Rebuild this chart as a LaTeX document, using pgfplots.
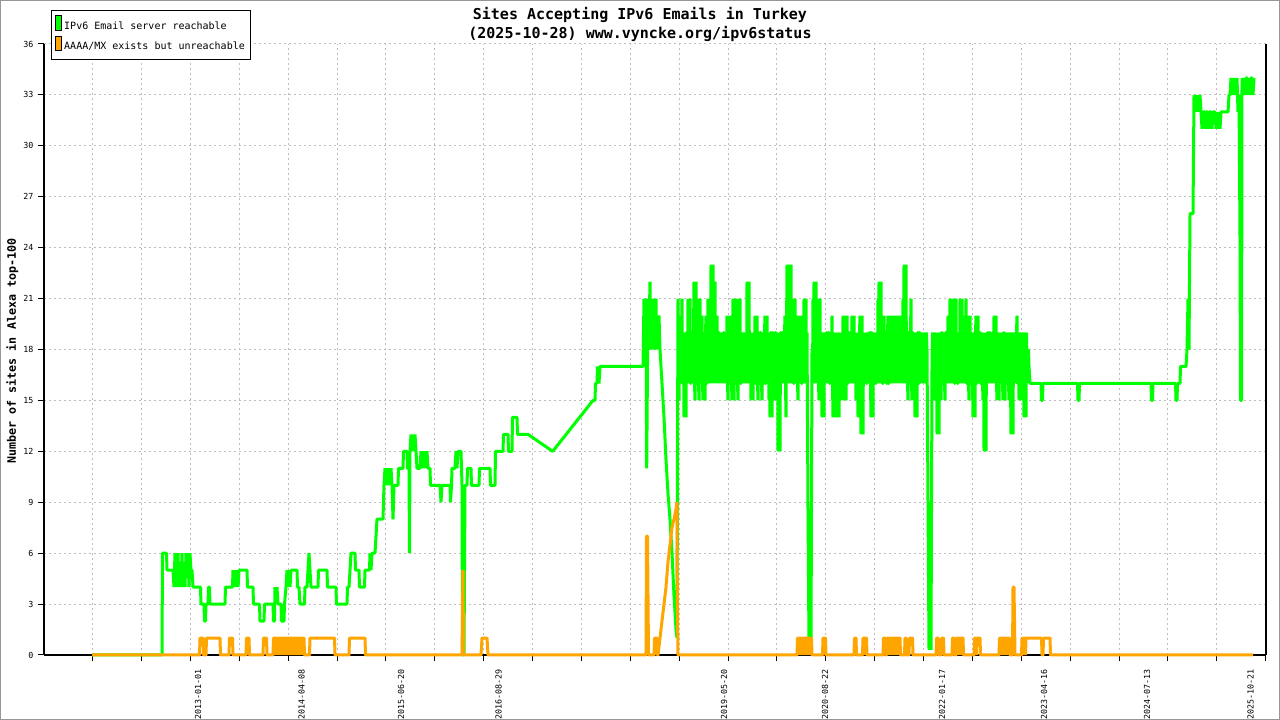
\documentclass[border=0pt]{standalone}
\usepackage{fontspec}
\setmainfont{DejaVu Sans Mono}
\usepackage{pgfplots}
\pgfplotsset{compat=1.18}
\definecolor{gsix}{RGB}{0,255,0}
\definecolor{orsix}{RGB}{255,165,0}
\definecolor{gridc}{RGB}{190,190,190}
\definecolor{framec}{RGB}{150,150,150}
\begin{document}
\begin{tikzpicture}
\fill[white] (-33pt,-48.75pt) rectangle (927pt,491.25pt);
\begin{axis}[
  at={(0,0)}, anchor=south west,
  scale only axis, width=916.5pt, height=458.25pt,
  xmin=44, xmax=1266, ymin=0, ymax=36,
  clip=false,
  axis x line=bottom, axis y line=box, axis line style={-, line width=0.9pt, black},
  ytick={0,3,...,36}, ytick pos=left,
  xtick={43.7,92.6,141.5,190.3,239.2,288.1,337.0,385.9,434.7,483.6,532.5,581.4,630.3,679.1,728.0,776.9,825.8,874.7,923.5,972.4,1021.3,1070.2,1119.1,1167.9,1216.8,1265.7},
  xticklabels={},
  tick align=outside, major tick length=4.5pt,
  tick style={black, line width=0.75pt},
  xmajorgrids, ymajorgrids,
  grid style={gridc, dash pattern=on 1.5pt off 2.25pt, line width=0.75pt},
  /pgf/number format/assume math mode=true,
  tick label style={font=\fontsize{6.25}{7}\selectfont},
  extra x ticks={198,301.5,401,498.5,724,825,942,1044,1147,1250.5},
  extra x tick labels={2013-01-01,2014-04-08,2015-06-20,2016-08-29,2019-05-20,2020-08-22,2022-01-17,2023-04-16,2024-07-13,2025-10-21},
  extra x tick style={major tick length=0pt, grid=none, xticklabel style={yshift=-7pt, rotate=90, anchor=east, font=\fontsize{6.25}{7}\selectfont}},
  ylabel={Number of sites in Alexa top-100},
  ylabel style={at={(axis description cs:-0.0258,0.4975)}, anchor=center, font=\bfseries\fontsize{8.75}{10}\selectfont},
  legend style={at={(axis description cs:0.0055,1.0552)}, anchor=north west, draw=black, line width=0.75pt, fill=white, font=\fontsize{7.5}{9}\selectfont, inner xsep=2.5pt, inner ysep=3.5pt, row sep=1.5pt},
  legend cell align=left,
]
\addplot[gsix, line width=2.25pt, line join=bevel,
  legend image code/.code={\draw[draw=black, fill=gsix, line width=0.75pt] (0pt,-3pt) rectangle (4.5pt,7.9pt);}]
coordinates {
(92,0) (162,0) (162.5,6) (166.5,6) (167,5) (173,5) (174,4) (175,6) (176,4) (177,5) (178,6) (179,4) (180,5) (181,4) (182,6) (183,4) (184,5) (185,4) (186,6) (187,5) (188,6) (189,4) (190,6) (191,5) (192,5) (193,4) (200.5,4) (201,3) (204,3) (204.5,2) (205.5,2) (206,3) (208,3) (208.5,4) (209.5,4) (210,3) (225,3) (225.5,4) (232.5,4) (233,5) (234,4) (235,5) (236,4) (237,5) (238,4) (239,5) (247,5) (247.5,4) (253,4) (253.5,3) (259.5,3) (260,2) (264,2) (264.5,3) (273,3) (273.5,2) (274.5,2) (275,4) (276,3) (277,4) (278,3) (281,3) (281.5,2) (284,2) (284.5,3) (286,4) (287,5) (288,4) (289,5) (290,4) (291,5) (297,5) (297.5,4) (299,4) (300,3) (304.5,3) (305,4) (307,4) (308,5) (309,6) (310,5) (311,4) (318,4) (318.5,5) (327,5) (327.5,4) (336,4) (336.5,3) (347,3) (347.5,4) (349,4) (350,5) (351,6) (355,6) (355.5,5) (359,5) (359.5,4) (364.5,4) (365,5) (369.5,5) (370,6) (371,5) (372,6) (375,6) (376,7) (377,8) (383,8) (384,10) (385,11) (386,10) (387,11) (388,10) (389,11) (390,10) (391,11) (392,10) (393,8) (394,10) (398,10) (398.5,11) (403,11) (403.5,12) (407,12) (407.5,11) (409,11) (409.5,6) (410,12) (411,13) (412,12) (413,13) (414,12) (415,13) (416,12) (417,11) (420,11) (421,12) (422,11) (423,12) (424,11) (425,12) (426,11) (427,12) (428,11) (430,11) (430.5,10) (440,10) (441,9) (442,10) (450,10) (450.5,9) (451.5,10) (452,11) (455,11) (456,12) (457,11) (458,12) (461,12) (462,10) (462.5,0) (464,0) (465,10) (467,10) (467.5,11) (471,11) (471.5,10) (479,10) (479.5,11) (490,11) (490.5,10) (495,10) (495.5,12) (503,12) (503.5,13) (508,13) (508.5,12) (512,12) (512.5,14) (517,14) (517.5,13) (528,13) (552.7,12) (593,15) (595,15) (595.5,16) (597,16) (597.5,17) (599,16) (600,17) (643,17) (644,21) (644.5,18) (645,21) (646,20) (646.7,11) (648,21) (648.5,18) (649,19) (650,22) (650.5,18) (651,19) (652,21) (652.5,18) (653,20) (654,21) (654.5,18) (655,19) (656,21) (656.5,18) (657,20) (658,19) (659,20) (660,18) (662,16) (664,14) (666,11.5) (668,9.5) (670,8) (672,6) (674,3.5) (676,1.5) (677,1) (677.5,12)
(678,21)(678.5,16)(679,15)(679.5,19)(680,20)(680.5,16)(681,17)(681.5,19)(682,21)(682.5,16)(683,16)(683.5,19)(684,14)(684.5,19)(685,18)(685.5,16)(686,14)(686.5,19)(687,19)(687.5,16)(688,21)(688.5,16)(689,17)(689.5,19)(690,21)(690.5,16)(691,16)(691.5,19)(692,19)(692.5,16)(693,17)(693.5,19)(694,22)(694.5,16)(695,15)(695.5,19)(696,22)(696.5,16)(697,16)(697.5,19)(698,21)(698.5,16)(699,15)(699.5,19)(700,21)(700.5,16)(701,17)(701.5,19)(702,20)(702.5,16)(703,15)(703.5,19)(704,18)(704.5,16)(705,15)(705.5,19)(706,20)(706.5,16)(707,16)(707.5,19)(708,21)(708.5,16)(709,18)(709.5,16)(710,21)(710.5,16)(711,23)(711.5,16)(712,17)(712.5,19)(713,23)(713.5,16)(714,19)(714.5,16)(715,22)(715.5,16)(716,18)(716.5,16)(717,20)(717.5,16)(718,17)(718.5,19)(719,19)(719.5,16)(720,17)(720.5,19)(721,18)(721.5,16)(722,19)(722.5,16)(723,17)(723.5,19)(724,19)(724.5,16)(725,17)(725.5,19)(726,18)(726.5,16)(727,20)(727.5,16)(728,15)(728.5,19)(729,20)(729.5,16)(730,16)(730.5,19)(731,20)(731.5,16)(732,15)(732.5,19)(733,21)(733.5,16)(734,15)(734.5,19)(735,21)(735.5,16)(736,16)(736.5,19)(737,21)(737.5,16)(738,15)(738.5,19)(739,19)(739.5,16)(740,21)(740.5,16)(741,16)(741.5,19)(742,18)(742.5,16)(743,17)(743.5,19)(744,18)(744.5,16)(745,17)(745.5,19)(746,18)(746.5,16)(747,22)(747.5,16)(748,20)(748.5,16)(749,22)(749.5,16)(750,17)(750.5,19)(751,15)(751.5,19)(752,17)(752.5,19)(753,15)(753.5,19)(754,18)(754.5,16)(755,20)(755.5,16)(756,16)(756.5,19)(757,20)(757.5,16)(758,15)(758.5,19)(759,19)(759.5,16)(760,16)(760.5,19)(761,19)(761.5,16)(762,15)(762.5,19)(763,18)(763.5,16)(764,16)(764.5,19)(765,20)(765.5,16)(766,16)(766.5,19)(767,20)(767.5,16)(768,17)(768.5,19)(769,15)(769.5,19)(770,14)(770.5,19)(771,19)(771.5,16)(772,14)(772.5,19)(773,19)(773.5,16)(774,16)(774.5,19)(775,15)(775.5,19)(776,19)(776.5,16)(777,16)(777.5,19)(778,12)(778.5,19)(779,17)(779.5,19)(780,12)(780.5,19)(781,19)(781.5,16)(782,17)(782.5,19)(783,19)(783.5,16)(784,17)(784.5,19)(785,20)(785.5,16)(786,14)(786.5,19)(787,23)(787.5,16)(788,18)(788.5,16)(789,23)(789.5,16)(790,17)(790.5,19)(791,23)(791.5,16)(792,17)(792.5,19)(793,21)(793.5,16)(794,16)(794.5,19)(795,21)(795.5,16)(796,17)(796.5,19)(797,20)(797.5,16)(798,15)(798.5,19)(799,20)(799.5,16)(800,17)(800.5,19)(801,20)(801.5,16)(802,16)(802.5,19)(803,19)(803.5,16)(804,21)(804.5,16)(805,17)(805.5,19)(806,21)(806.5,16)(807,19)(808,8.5)(809,0.5)(810,8.5)(811,0.5)(812,18)(812.5,16)(813,21)(813.5,16)(814,22)(814.5,16)(815,17)(815.5,19)(816,22)(816.5,16)(817,18)(817.5,16)(818,21)(818.5,16)(819,15)(819.5,19)(820,21)(820.5,16)(821,16)(821.5,19)(822,14)(822.5,19)(823,18)(823.5,16)(824,14)(824.5,19)(825,18)(825.5,16)(826,17)(826.5,19)(827,19)(827.5,16)(828,17)(828.5,19)(829,19)(829.5,16)(830,16)(830.5,19)(831,18)(831.5,16)(832,20)(832.5,16)(833,14)(833.5,19)(834,18)(834.5,16)(835,14)(835.5,19)(836,17)(836.5,19)(837,14)(837.5,19)(838,18)(838.5,16)(839,14)(839.5,19)(840,17)(840.5,19)(841,15)(841.5,19)(842,18)(842.5,16)(843,20)(843.5,16)(844,15)(844.5,19)(845,20)(845.5,16)(846,15)(846.5,19)(847,20)(847.5,16)(848,16)(848.5,19)(849,19)(849.5,16)(850,17)(850.5,19)(851,19)(851.5,16)(852,20)(852.5,16)(853,17)(853.5,19)(854,20)(854.5,16)(855,17)(855.5,19)(856,15)(856.5,19)(857,17)(857.5,19)(858,14)(858.5,19)(859,16)(859.5,19)(860,20)(860.5,16)(861,13)(861.5,19)(862,20)(862.5,16)(863,13)(863.5,19)(864,17)(864.5,19)(865,16)(865.5,19)(866,18)(866.5,16)(867,16)(867.5,19)(868,18)(868.5,16)(869,17)(869.5,19)(870,19)(870.5,16)(871,14)(871.5,19)(872,19)(872.5,16)(873,14)(873.5,19)(874,16)(874.5,19)(875,18)(875.5,16)(876,16)(876.5,19)(877,18)(877.5,16)(878,21)(878.5,16)(879,22)(879.5,16)(880,21)(880.5,16)(881,22)(881.5,16)(882,20)(882.5,16)(883,16)(883.5,19)(884,20)(884.5,16)(885,17)(885.5,19)(886,19)(886.5,16)(887,16)(887.5,19)(888,20)(888.5,16)(889,16)(889.5,19)(890,20)(890.5,16)(891,17)(891.5,19)(892,20)(892.5,16)(893,18)(893.5,16)(894,20)(894.5,16)(895,19)(895.5,16)(896,18)(896.5,16)(897,20)(897.5,16)(898,18)(898.5,16)(899,19)(899.5,16)(900,20)(900.5,16)(901,18)(901.5,16)(902,20)(902.5,16)(903,21)(903.5,16)(904,23)(904.5,16)(905,21)(905.5,16)(906,23)(906.5,16)(907,19)(907.5,16)(908,15)(908.5,19)(909,19)(909.5,16)(910,16)(910.5,19)(911,21)(911.5,16)(912,15)(912.5,19)(913,19)(913.5,16)(914,15)(914.5,19)(915,14)(915.5,19)(916,18)(916.5,16)(917,14)(917.5,19)(918,19)(918.5,16)(919,16)(919.5,19)(920,19)(920.5,16)(921,18)(921.5,16)(922,19)(922.5,16)(923,17)(923.5,19)(924,18)(924.5,16)(925,19)(925.5,16)(926,17)(926.5,19)(927,18)(928,9)(929,0.3)(930,9)(931,0.3)(932,17)(932.5,19)(933,18)(933.5,16)(934,15)(934.5,19)(935,18)(935.5,16)(936,15)(936.5,19)(937,13)(937.5,19)(938,16)(938.5,19)(939,13)(939.5,19)(940,18)(940.5,16)(941,15)(941.5,19)(942,19)(942.5,16)(943,16)(943.5,19)(944,18)(944.5,16)(945,15)(945.5,19)(946,19)(946.5,16)(947,18)(947.5,16)(948,20)(948.5,16)(949,18)(949.5,16)(950,21)(950.5,16)(951,19)(951.5,16)(952,21)(952.5,16)(953,19)(953.5,16)(954,21)(954.5,16)(955,16)(955.5,19)(956,21)(956.5,16)(957,19)(957.5,16)(958,16)(958.5,19)(959,18)(959.5,16)(960,21)(960.5,16)(961,18)(961.5,16)(962,21)(962.5,16)(963,19)(963.5,16)(964,20)(964.5,16)(965,18)(965.5,16)(966,21)(966.5,16)(967,16)(967.5,19)(968,20)(968.5,16)(969,15)(969.5,19)(970,20)(970.5,16)(971,16)(971.5,19)(972,18)(972.5,16)(973,14)(973.5,19)(974,18)(974.5,16)(975,14)(975.5,19)(976,20)(976.5,16)(977,16)(977.5,19)(978,20)(978.5,16)(979,17)(979.5,19)(980,19)(980.5,16)(981,16)(981.5,19)(982,18)(982.5,16)(983,15)(983.5,19)(984,12)(984.5,19)(985,16)(985.5,19)(986,12)(986.5,19)(987,17)(987.5,19)(988,19)(988.5,16)(989,17)(989.5,19)(990,19)(990.5,16)(991,18)(991.5,16)(992,17)(992.5,19)(993,19)(993.5,16)(994,20)(994.5,16)(995,17)(995.5,19)(996,20)(996.5,16)(997,15)(997.5,19)(998,18)(998.5,16)(999,15)(999.5,19)(1000,17)(1000.5,19)(1001,16)(1001.5,19)(1002,18)(1002.5,16)(1003,15)(1003.5,19)(1004,19)(1004.5,16)(1005,15)(1005.5,19)(1006,18)(1006.5,16)(1007,16)(1007.5,19)(1008,18)(1008.5,16)(1009,15)(1009.5,19)(1010,18)(1010.5,16)(1011,13)(1011.5,19)(1012,18)(1012.5,16)(1013,13)(1013.5,19)(1014,18)(1014.5,16)(1015,19)(1015.5,16)(1016,17)(1016.5,19)(1017,20)(1017.5,16)(1018,16)(1018.5,19)(1019,15)(1019.5,19)(1020,18)(1020.5,16)(1021,15)(1021.5,19)(1022,17)(1022.5,19)(1023,18)(1023.5,16)(1024,14)(1024.5,19)(1025,18)(1025.5,16)(1026,14)(1026.5,19)(1027,17)(1027.5,18)(1028,16)(1028.5,18)(1029,17)(1030,16)
(1041,16) (1041.5,15) (1042.5,15) (1043,16) (1077.5,16) (1078,15) (1079,15) (1079.5,16) (1151,16) (1151.5,15) (1152.5,15) (1153,16) (1175.5,16) (1176,15) (1177,15) (1177.5,16) (1180,16) (1180.5,17) (1186,17) (1187,18) (1188,21) (1189,18) (1190,26) (1193,26) (1194,33) (1195,32) (1196,33) (1197,32) (1198,33) (1199,32) (1200,33) (1201,32) (1202,31) (1203,32) (1205,32) (1205.5,31) (1206.5,32) (1208,32) (1208.5,31) (1209.5,32) (1211,32) (1212,31) (1213,32) (1215,32) (1216,31) (1217,32) (1218,31) (1219,32) (1220,31) (1221,32) (1228,32) (1229,33) (1230,33) (1231,34) (1232,33) (1233,34) (1234,33) (1235,34) (1236,33) (1237,34) (1238,32) (1239,33) (1240,24.5) (1240.5,15) (1241.5,15) (1242,34) (1243,33) (1244,34) (1245,33) (1246,34) (1247,34) (1248,33) (1249,34) (1250,33) (1251,34) (1252,34) (1253,33) (1254,34)
};
\addlegendentry{IPv6 Email server reachable}
\addplot[orsix, line width=2.25pt, line join=bevel,
  legend image code/.code={\draw[draw=black, fill=orsix, line width=0.75pt] (0pt,-3pt) rectangle (4.5pt,7.9pt);}]
coordinates {
(92,0) (199.5,0) (200,1) (203,1) (203.5,0) (206,0) (206.5,1) (220,1) (220.5,0) (229,0) (229.5,1) (232.5,1) (233,0) (246,0) (246.5,1) (249,1) (249.5,0) (263,0) (263.5,1) (266.5,1) (267,0)
(273,0)(273.5,1)(275,1)(275.5,0)(276,1)(277.5,1)(278,0)(278.5,1)(280,1)(280.5,0)(281,1)(282,1)(282.5,0)(283,1)(285,1)(285.5,0)(286,1)(287,1)(287.5,0)(288,1)(290,1)(290.5,0)(291,1)(292,1)(292.5,0)(293,1)(294,1)(294.5,0)(295,1)(296.5,1)(297,0)(297.5,1)(299,1)(299.5,0)(300,1)(301,1)(301.5,0)(302,1)(304,1)(304.5,0)
(309.5,0) (310,1) (334.5,1) (335,0) (349,0) (349.5,1) (365,1) (365.5,0) (462,0) (462.5,2.3) (463,5) (463.5,0) (481,0) (482,1) (487,1) (488,0) (646,0) (646.5,7) (647.5,7) (648,3.5) (648.5,0) (654,0) (654.5,1) (657,1) (657.5,0) (658,0) (660,1) (662,2) (664,3) (666,4) (668,5.5) (670,6.5) (672,7.5) (674,8) (676,8.6) (677,9) (677.3,3.5) (678,0)
(797,0)(797.5,1)(798.5,1)(799,0)(799.5,1)(801,1)(801.5,0)(802,1)(803,1)(803.5,0)(804,1)(805.5,1)(806,0)(806.5,1)(808,1)(808.5,0)(809,1)(810,1)(810.5,0)(811,1)(811.5,1)(812,0)
(822.5,0) (823,1) (825.5,1) (826,0) (854,0) (854.5,1) (856,1) (856.5,0) (862.5,0) (863,1) (864,1) (864.5,0) (865,1) (866.5,1) (867,0)
(883,0)(883.5,1)(885,1)(885.5,0)(886.5,0)(887,1)(888,1)(888.5,0)(889,1)(890.5,1)(891,0)(891.5,1)(893,1)(893.5,0)(894,1)(895,1)(895.5,0)(896,1)(897.5,1)(898,0)(898.5,1)(900,1)(900.5,0)
(904.5,0) (905,1) (906,1) (906.5,0) (909,0) (909.5,1) (912.5,1) (913,0) (936,0) (936.5,1) (938,1) (938.5,0) (941,0) (941.5,1) (943.5,1) (944,0) (952,0) (952.5,1) (954,1) (954.5,0) (956,0) (956.5,1) (958,1) (958.5,0) (959,1) (961,1) (961.5,0) (962,1) (963,1) (963.5,0) (974,0) (974.5,1) (976,1) (976.5,0) (977,1) (980,1) (980.5,0)
(999,0)(999.5,1)(1000.5,1)(1001,0)(1001.5,1)(1003,1)(1003.5,0)(1004,1)(1005,1)(1005.5,0)(1006,1)(1007.5,1)(1008,0)(1008.5,1)(1009.5,1)(1010,0)
(1012.5,0) (1013,4) (1014,4) (1014.5,2) (1015,0) (1021.5,0)(1022,1)(1023,1)(1023.5,0)(1024,1)(1025,1)(1025.5,0)(1026,1) (1041.5,1) (1042,0) (1043,0) (1043.5,1) (1050,1) (1050.5,0) (1253,0)
};
\addlegendentry{AAAA/MX exists but unreachable}
\node[font=\bfseries\fontsize{11.25}{14.25}\selectfont, align=center] at (axis description cs:0.4877,1.032) {Sites Accepting IPv6 Emails in Turkey\\(2025-10-28) www.vyncke.org/ipv6status};
\end{axis}
\pgfresetboundingbox
\useasboundingbox (-33pt,-48.75pt) rectangle (927pt,491.25pt);
\draw[framec, line width=0.75pt] (-32.625pt,-48.375pt) rectangle (926.625pt,490.875pt);
\end{tikzpicture}
\end{document}
